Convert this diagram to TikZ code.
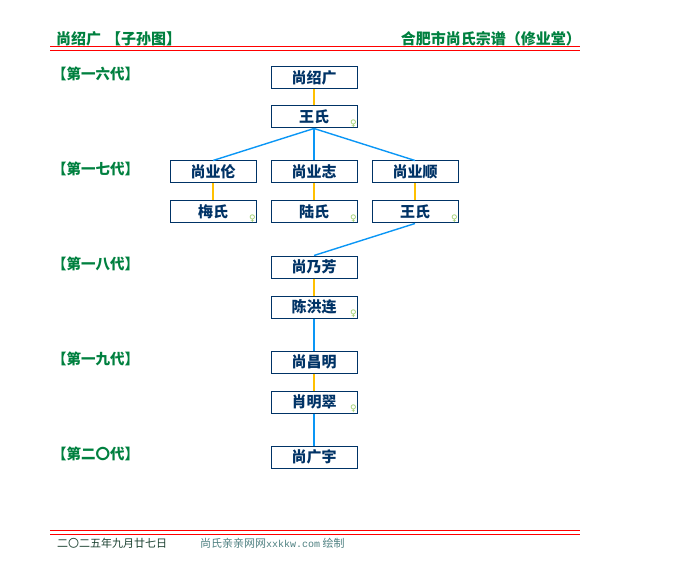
\documentclass[tikz,border=0pt]{standalone}
\usepackage{fontspec}
\setmainfont{Noto Sans CJK SC}
\setmonofont{Liberation Mono}
\newfontfamily\symfont{DejaVu Sans}
\usepackage{tikz}
\usetikzlibrary{positioning}
\definecolor{pedgreen}{HTML}{00803F}
\definecolor{boxnavy}{HTML}{003366}
\definecolor{marryyellow}{HTML}{FFC000}
\definecolor{lineblue}{HTML}{0A96F5}
\definecolor{femgreen}{HTML}{99CC66}
\definecolor{rulered}{HTML}{FF0000}
\definecolor{datedark}{HTML}{1A4030}
\definecolor{siteteal}{HTML}{4D7F80}
\tikzset{every edge/.style={draw,line width=1.4pt},
	marry/.style={draw=marryyellow},descend/.style={draw=lineblue}}
\tikzstyle{person}=[rectangle,draw=boxnavy,fill=white,line width=1pt,inner sep=0pt,minimum width=86pt,minimum height=22pt,text=boxnavy,font=\fontsize{15}{15}\selectfont\bfseries]
\tikzstyle{spouse}=[person,label={[anchor=south east,inner xsep=0.6pt,inner ysep=1pt,text=femgreen,font=\symfont\fontsize{9}{9}\selectfont]south east:♀}]
\tikzstyle{generation}=[anchor=west,inner sep=0pt,text=pedgreen,font=\fontsize{14.5}{14.5}\selectfont\bfseries]
\tikzstyle{heading}=[inner sep=0pt,text=pedgreen,font=\fontsize{15}{15}\selectfont\bfseries]
\tikzstyle{redrule}=[draw=rulered,line width=1pt]

\begin{document}
\begin{tikzpicture}[x=1pt,y=-1pt]
	\useasboundingbox (0,0) rectangle (680,580);
	% header
	\node at (56,39) [heading,anchor=west] (title) {尚绍广\hspace{5pt}【子孙图】};
	\node at (581,39) [heading,anchor=east] (clan) {合肥市尚氏宗谱（修业堂）};
	\draw[redrule] (50,47) -- (580,47);
	\draw[redrule] (50,50.5) -- (580,50.5);
	% generations
	\node at (52,74) [generation] (g16) {【第一六代】};
	\node at (52,169) [generation] (g17) {【第一七代】};
	\node at (52,264) [generation] (g18) {【第一八代】};
	\node at (52,359) [generation] (g19) {【第一九代】};
	\node at (52,454) [generation] (g20) {【第二〇代】};
	% persons
	\node at (314,78) [person] (1) {尚绍广};
	\node at (314,117) [spouse] (2) {王氏};
	\node at (213,172) [person] (3) {尚业伦};
	\node at (314,172) [person] (4) {尚业志};
	\node at (415,172) [person] (5) {尚业顺};
	\node at (213,212) [spouse] (6) {梅氏};
	\node at (314,212) [spouse] (7) {陆氏};
	\node at (415,212) [spouse] (8) {王氏};
	\node at (314,267) [person] (9) {尚乃芳};
	\node at (314,307) [spouse] (10) {陈洪连};
	\node at (314,362) [person] (11) {尚昌明};
	\node at (314,402) [spouse] (12) {肖明翠};
	\node at (314,457) [person] (13) {尚广宇};
	\draw (1) edge[marry] (2);
	\draw (3) edge[marry] (6);
	\draw (4) edge[marry] (7);
	\draw (5) edge[marry] (8);
	\draw (9) edge[marry] (10);
	\draw (11) edge[marry] (12);
	\draw (2.south) edge[descend] (3.north);
	\draw (2.south) edge[descend] (4.north);
	\draw (2.south) edge[descend] (5.north);
	\draw (8.south) edge[descend] (9.north);
	\draw (10.south) edge[descend] (11.north);
	\draw (12.south) edge[descend] (13.north);
	% footer
	\draw[redrule] (50,530) -- (580,530);
	\draw[redrule] (50,534) -- (580,534);
	\node at (57,543) [anchor=west,inner sep=0pt,text=datedark,font=\fontsize{11}{11}\selectfont] (date) {二〇二五年九月廿七日};
	\node at (200,543) [anchor=west,inner sep=0pt,text=siteteal,font=\fontsize{11}{11}\selectfont] (site) {尚氏亲亲网网{\ttfamily\fontsize{10}{10}\selectfont xxkkw.com} 绘制};
\end{tikzpicture}
\end{document}
